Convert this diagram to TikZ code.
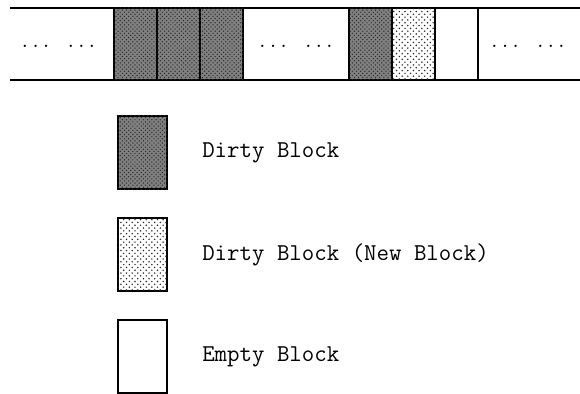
\documentclass[tikz,border=0pt]{standalone}
\usepackage{fontspec}
\usetikzlibrary{patterns,positioning}

\pgfdeclarepatternformonly{newdots}{\pgfqpoint{-1pt}{-1pt}}{\pgfqpoint{3pt}{3pt}}{\pgfqpoint{4pt}{4pt}}{%
  \pgfpathcircle{\pgfqpoint{0pt}{0pt}}{0.6pt}
  \pgfpathcircle{\pgfqpoint{2pt}{2pt}}{0.6pt}
  \pgfusepath{fill}
}

\begin{document}
\begin{tikzpicture}[
    x=0.025cm, y=-0.025cm,
    cell/.style={rectangle, draw=black, line width=0.9pt, inner sep=0pt,
                 minimum width=1.075cm, minimum height=1.8cm},
    dirty/.style={fill=black!50, postaction={pattern=crosshatch dots, pattern color=black!85}},
    newblk/.style={fill=white, postaction={pattern=newdots, pattern color=black!85}},
    empty/.style={fill=white},
    key/.style={rectangle, draw=black, line width=0.9pt, inner sep=0pt,
                minimum width=1.225cm, minimum height=1.825cm},
    txt/.style={font=\ttfamily\fontsize{17.2}{20}\selectfont, inner sep=0pt},
    gap/.style={font=\ttfamily\fontsize{14.6}{17}\selectfont, inner sep=0pt}
  ]
  \useasboundingbox (0,0) rectangle (580,394);

  % the strip of blocks
  \draw[line width=0.9pt] (10,8) -- (580,8);
  \draw[line width=0.9pt] (10,80) -- (580,80);
  \coordinate (s1t) at (114,8);  \coordinate (s1b) at (114,80);
  \coordinate (s2t) at (478,8);  \coordinate (s2b) at (478,80);
  \draw[line width=0.9pt] (s1t) -- (s1b);
  \draw[line width=0.9pt] (s2t) -- (s2b);

  \node[gap] (gap1) at (58.5,46) {... ...};
  \node[cell, dirty] (b1) at (135.5,44) {};
  \node[cell, dirty] (b2) at (178.5,44) {};
  \node[cell, dirty] (b3) at (221.5,44) {};
  \node[gap] (gap2) at (296,46) {... ...};
  \node[cell, dirty] (b4) at (370.5,44) {};
  \node[cell, newblk] (b5) at (413.5,44) {};
  \node[cell, empty] (b6) at (456.5,44) {};
  \node[gap] (gap3) at (528,46) {... ...};

  % legend
  \node[key, dirty] (k1) at (142.5,152.5) {};
  \node[key, newblk] (k2) at (142.5,254.5) {};
  \node[key, empty] (k3) at (142.5,356.5) {};

  \node[txt, anchor=west] (l1) at (202,153) {Dirty Block};
  \node[txt, anchor=west] (l2) at (202,255) {Dirty Block (New Block)};
  \node[txt, anchor=west] (l3) at (202,357) {Empty Block};
\end{tikzpicture}
\end{document}
